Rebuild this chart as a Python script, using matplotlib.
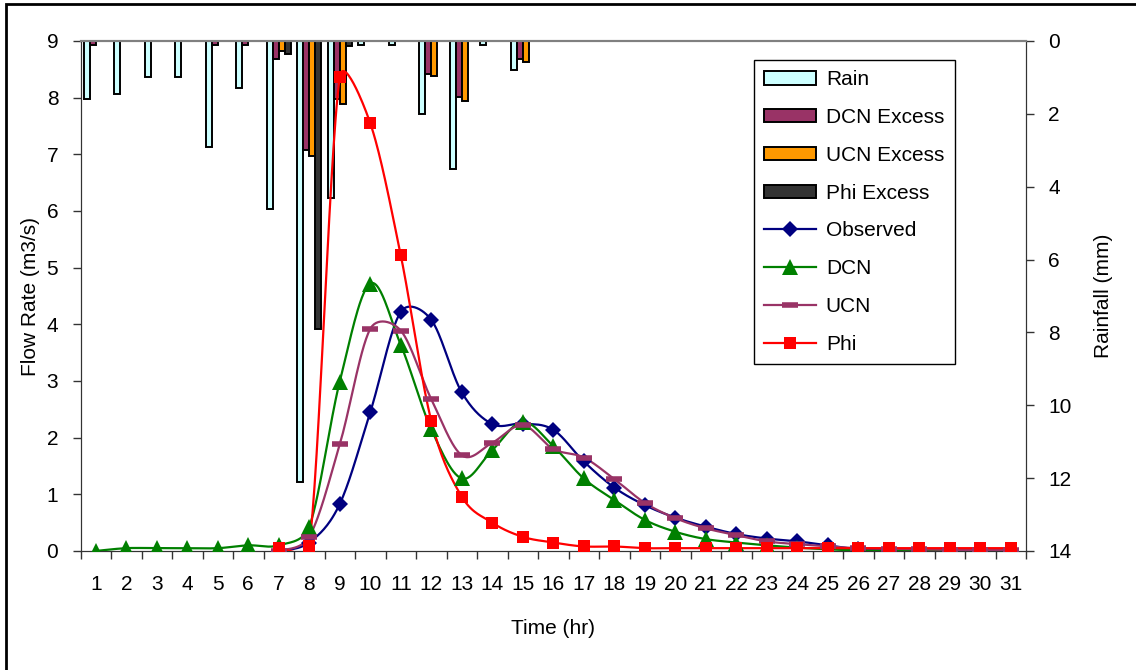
import numpy as np
import matplotlib.pyplot as plt
from matplotlib.patches import Rectangle

plt.rcParams['font.family'] = ['Liberation Sans', 'DejaVu Sans']

hours = np.arange(1, 32)

# rainfall and excess rainfall per hour (mm)
rain = [1.6, 1.45, 1.0, 1.0, 2.9, 1.3, 4.6, 12.1, 4.3, 0.1, 0.1, 2.0, 3.5, 0.1, 0.8] + [0] * 16
dcn_excess = [0.1, 0, 0, 0, 0.12, 0.12, 0.5, 3.0, 1.6, 0, 0, 0.9, 1.55, 0, 0.5] + [0] * 16
ucn_excess = [0, 0, 0, 0, 0, 0, 0.28, 3.15, 1.73, 0, 0, 0.95, 1.65, 0, 0.58] + [0] * 16
phi_excess = [0, 0, 0, 0, 0, 0, 0.35, 7.9, 0.13] + [0] * 22

# flow hydrographs (m3/s)
obs_hours = np.arange(7, 32)
observed = [0.0, 0.15, 0.83, 2.45, 4.22, 4.08, 2.8, 2.24, 2.25, 2.14, 1.58, 1.12, 0.81,
            0.59, 0.43, 0.3, 0.22, 0.17, 0.1, 0.03, 0.02, 0.02, 0.02, 0.02, 0.02]
dcn_hours = np.arange(1, 32)
dcn = [0, 0.05, 0.05, 0.05, 0.05, 0.1, 0.1, 0.43, 2.99, 4.72, 3.64, 2.15, 1.28, 1.78, 2.28,
       1.85, 1.28, 0.9, 0.55, 0.34, 0.21, 0.15, 0.1, 0.06, 0.03, 0.01, 0, 0, 0, 0, 0]
ucn_hours = np.arange(7, 32)
ucn = [0.0, 0.25, 1.88, 3.92, 3.89, 2.68, 1.69, 1.91, 2.22, 1.8, 1.65, 1.27, 0.85, 0.58,
       0.4, 0.28, 0.17, 0.12, 0.08, 0.05, 0.04, 0.03, 0.02, 0.02, 0.02]
phi_hours = np.arange(7, 32)
phi = [0.05, 0.09, 8.36, 7.55, 5.22, 2.3, 0.96, 0.5, 0.25, 0.15, 0.08, 0.08, 0.05, 0.05,
       0.05, 0.05, 0.05, 0.05, 0.05, 0.05, 0.05, 0.05, 0.05, 0.05, 0.05]

# pixels per data unit, used so the smoothing works on the drawn shape
SX, SY = 30.5, 56.67


def smooth(x, y, n=30):
    # bezier "smoothed line": tangents from neighbours, shortened next to long jumps
    p = np.column_stack([np.asarray(x) * SX, np.asarray(y) * SY]).astype(float)
    m = len(p)
    d = np.hypot(*np.diff(p, axis=0).T)
    out = [p[:1]]
    t = np.linspace(0, 1, n)[1:, None]

    def ctrl(i, seg):
        # tangent at point i, scaled for the segment of length d[seg]
        a = p[i - 1] if i > 0 else p[i]
        b = p[i + 1] if i + 1 < m else p[i]
        din = d[i - 1] if i > 0 else d[seg]
        dout = d[i] if i + 1 < m else d[seg]
        s = min(1.0, 3 * d[seg] / (din + dout))
        return (b - a) / 6 * s

    for i in range(m - 1):
        p1, p2 = p[i], p[i + 1]
        c1 = p1 + ctrl(i, i)
        c2 = p2 - ctrl(i + 1, i)
        seg = ((1 - t) ** 3) * p1 + 3 * ((1 - t) ** 2) * t * c1 + 3 * (1 - t) * t ** 2 * c2 + t ** 3 * p2
        out.append(seg)
    s = np.vstack(out)
    return s[:, 0] / SX, s[:, 1] / SY


fig = plt.figure(figsize=(11.36, 6.70), dpi=100)
ax = fig.add_axes([80.5 / 1136, 119 / 670, 945.5 / 1136, 510 / 670])
ax2 = ax.twinx()

FS = 15

# rainfall bars hanging from the top (right axis, inverted)
w = 0.2
bar_specs = [(rain, '#CCFFFF', 'Rain', -1.5), (dcn_excess, '#993366', 'DCN Excess', -0.5),
             (ucn_excess, '#FF9900', 'UCN Excess', 0.5), (phi_excess, '#333333', 'Phi Excess', 1.5)]
bar_handles = []
for vals, col, lab, k in bar_specs:
    b = ax.bar(hours + k * w, vals, width=w, color=col, edgecolor='black', linewidth=1.4, label=lab)
    bar_handles.append(b)
ax.set_ylim(14, 0)
ax.set_yticks(range(0, 15, 2))
ax.yaxis.tick_right()
ax.yaxis.set_label_position('right')
ax.set_ylabel('Rainfall (mm)', fontsize=FS, labelpad=16, rotation=90)

# flow lines (left axis)
line_specs = [(obs_hours, observed, '#000080', 'D', 8.5, 'Observed'),
              (dcn_hours, dcn, '#008000', '^', 11, 'DCN'),
              (ucn_hours, ucn, '#993366', '_', 12, 'UCN'),
              (phi_hours, phi, '#FF0000', 's', 9, 'Phi')]
line_handles = []
for xs, ys, col, mk, ms, lab in line_specs:
    sx, sy = smooth(xs, ys)
    ax2.plot(sx, sy, color=col, lw=1.6, zorder=3)
    mew = 4 if mk == '_' else 0
    ax2.plot(xs, ys, linestyle='none', marker=mk, ms=ms, color=col, mew=mew, zorder=4)
    h, = ax2.plot([], [], color=col, lw=1.6, marker=mk, ms=ms, mew=mew, label=lab)
    line_handles.append(h)
ax2.set_ylim(0, 9)
ax2.set_yticks(range(10))
ax2.yaxis.tick_left()
ax2.yaxis.set_label_position('left')
ax2.set_ylabel('Flow Rate (m3/s)', fontsize=FS, labelpad=5)

ax.set_xlim(0.5, 31.5)
ax.set_xticks(hours)
ax.set_xticks(np.arange(0.5, 32, 1), minor=True)
ax.tick_params(axis='x', which='major', length=0, labelsize=FS, pad=17)
ax.tick_params(axis='x', which='minor', length=6, width=1, color='#333333')
ax.tick_params(axis='y', length=6, width=1, labelsize=FS, pad=10, color='#333333')
ax2.tick_params(axis='y', length=6, width=1, labelsize=FS, pad=10, color='#333333')
ax.set_xlabel('Time (hr)', fontsize=FS, labelpad=18)

for a in (ax, ax2):
    a.spines['top'].set_color('#808080')
    a.spines['left'].set_color('#333333')
    a.spines['right'].set_color('#333333')
    a.spines['bottom'].set_color('#333333')
    a.spines['top'].set_linewidth(1.5)

leg = ax2.legend(handles=bar_handles + line_handles,
                 labels=['Rain', 'DCN Excess', 'UCN Excess', 'Phi Excess', 'Observed', 'DCN', 'UCN', 'Phi'],
                 loc='upper left', bbox_to_anchor=(754 / 1136, 1 - 60 / 670),
                 bbox_transform=fig.transFigure, fontsize=FS, frameon=True, fancybox=False,
                 edgecolor='black', framealpha=1, handlelength=2.5, handleheight=0.6,
                 handletextpad=0.45, labelspacing=0.9, borderpad=0.5, borderaxespad=0)
leg.get_frame().set_linewidth(1)
leg.set_zorder(10)

# chart outline
fig.patches.append(Rectangle((6 / 1136, -0.1), 1.2, 1 - 4 / 670 + 0.1, transform=fig.transFigure,
                             fill=False, edgecolor='black', linewidth=2))

fig.savefig('out.png', dpi=100)
